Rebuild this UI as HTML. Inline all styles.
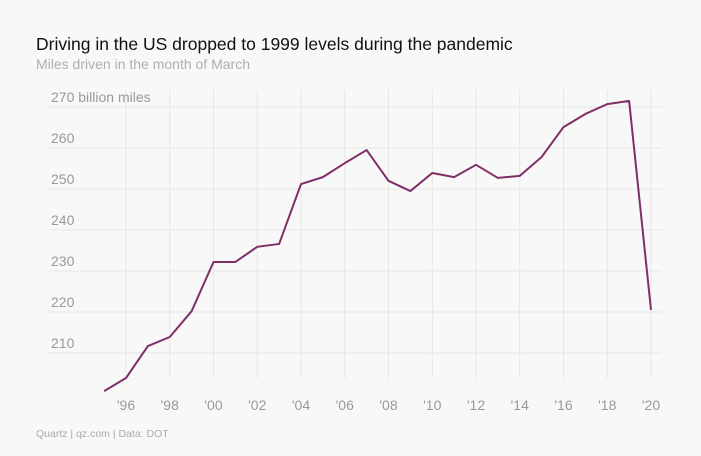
<!DOCTYPE html>
<html><head><meta charset="utf-8"><style>
body{margin:0;background:#f8f8f8;font-family:"Liberation Sans",sans-serif}
#wrap{position:relative;width:701px;height:456px;overflow:hidden;background:#f8f8f8}
.t{position:absolute;white-space:nowrap}
</style></head><body>
<div id="wrap">
<div class="t" style="left:36px;top:34px;font-size:17.5px;color:#111">Driving in the US dropped to 1999 levels during the pandemic</div>
<div class="t" style="left:36px;top:56px;font-size:14px;color:#b0b0b0">Miles driven in the month of March</div>
<svg id="chart" width="701" height="456" style="position:absolute;left:0;top:0"></svg>
<div class="t" style="left:36px;top:428px;font-size:10.5px;color:#aaa">Quartz | qz.com | Data: DOT</div>
</div>
<script>
const years=[1995,1996,1997,1998,1999,2000,2001,2002,2003,2004,2005,2006,2007,2008,2009,2010,2011,2012,2013,2014,2015,2016,2017,2018,2019,2020];
const miles=[200.7,203.9,211.7,213.9,220.2,232.2,232.2,235.9,236.6,251.2,252.9,256.3,259.5,252,249.5,253.9,252.9,255.9,252.7,253.2,257.8,265.1,268.3,270.7,271.5,220.5];
const yTicks=[210,220,230,240,250,260,270];
const xTicks=[1996,1998,2000,2002,2004,2006,2008,2010,2012,2014,2016,2018,2020];
const NS="http://www.w3.org/2000/svg";
const svg=document.getElementById('chart');
const x=v=>126+(v-1996)*21.875;
const y=v=>107+(270-v)*4.1;
function mk(t,a){const e=document.createElementNS(NS,t);for(const k in a)e.setAttribute(k,a[k]);svg.appendChild(e);return e;}
xTicks.forEach(v=>{
 const l=mk('line',{x1:x(v),x2:x(v),y1:90,y2:378,stroke:'#e6e6e6','stroke-width':1});
 
 
 const t=mk('text',{x:x(v),y:410,'text-anchor':'middle','font-size':14,fill:'#999','font-family':'Liberation Sans, sans-serif'});
 t.textContent="'"+String(v).slice(2);
 
 
});
yTicks.forEach(v=>{
 const l=mk('line',{x1:48,x2:662,y1:y(v),y2:y(v),stroke:'#e6e6e6','stroke-width':1});
 
 
 const t=mk('text',{x:51,y:y(v)-5,'font-size':14,fill:'#999','font-family':'Liberation Sans, sans-serif'});
 t.textContent=v===270?'270 billion miles':String(v);
 
 
});
const p=mk('polyline',{points:years.map((yr,i)=>x(yr)+','+y(miles[i])).join(' '),fill:'none',stroke:'#7f2f66','stroke-width':2,'stroke-linejoin':'round'});


</script>
</body></html>
